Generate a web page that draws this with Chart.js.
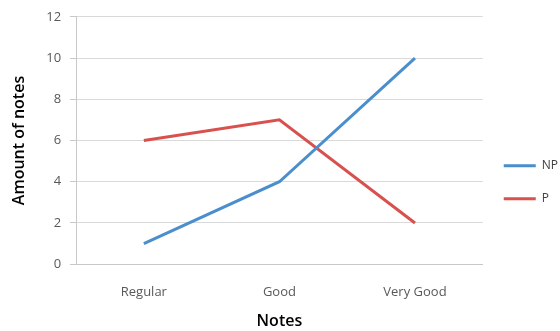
<!DOCTYPE html>
<html>
<head>
<meta charset="utf-8">
<script src="https://cdn.jsdelivr.net/npm/chart.js@4/dist/chart.umd.min.js"></script>
<style>
  html, body { margin: 0; padding: 0; background: #fff; overflow: hidden; }
  #wrap { width: 574px; height: 331px; position: relative; }
</style>
</head>
<body>
<div id="wrap"><canvas id="notesChart"></canvas></div>
<script>
// Daten
const categories = ["Regular", "Good", "Very Good"];
const npValues = [1, 4, 10];
const pValues = [6, 7, 2];
const yTicks = [0, 2, 4, 6, 8, 10, 12];

const tickFont = { family: "Open Sans", size: 13 };
const titleFont = { family: "Open Sans", size: 16, weight: "600" };

const ctx = document.getElementById("notesChart");
const notesChart = new Chart(ctx, {
    type: 'line',
    data: {
        labels: categories,
        datasets: [{
            label: "NP",
            data: npValues,
            borderColor: "#4A8ECD",
            backgroundColor: "#4A8ECD",
            borderWidth: 3,
            pointRadius: 0,
            tension: 0
        }, {
            label: "P",
            data: pValues,
            borderColor: "#D9514E",
            backgroundColor: "#D9514E",
            borderWidth: 3,
            pointRadius: 0,
            tension: 0
        }]
    },
    options: {
        responsive: true,
        maintainAspectRatio: false,
        animation: false,
        layout: {
            padding: { top: 13, left: 10, bottom: 0, right: 6 }
        },
        plugins: {
            tooltip: { enabled: false },
            legend: {
                position: 'right',
                title: { display: true, text: " ", padding: { top: 6, bottom: 0 }, font: { size: 12 } },
                labels: {
                    usePointStyle: true,
                    pointStyle: 'line',
                    pointStyleWidth: 32,
                    boxWidth: 32,
                    padding: 21,
                    color: "#404040",
                    font: { family: "Open Sans", size: 12 }
                }
            }
        },
        scales: {
            x: {
                offset: true,
                grid: { display: false },
                border: { display: true, color: "#c8c8c8" },
                ticks: { color: "#595959", font: tickFont, padding: 12 },
                title: {
                    display: true,
                    text: "Notes",
                    color: "#000",
                    font: titleFont,
                    padding: { top: 0, bottom: 0 }
                }
            },
            y: {
                min: 0,
                max: 12,
                afterBuildTicks: function (axis) {
                    axis.ticks = yTicks.map((v) => ({ value: v }));
                },
                grid: { color: "#d9d9d9", tickLength: 6, tickColor: "#c8c8c8" },
                border: { display: true, color: "#c8c8c8" },
                ticks: { color: "#595959", font: tickFont, padding: 9 },
                title: {
                    display: true,
                    text: "Amount of notes",
                    color: "#000",
                    font: titleFont,
                    padding: { top: 0, bottom: 8 }
                }
            }
        }
    }
});
</script>
</body>
</html>
